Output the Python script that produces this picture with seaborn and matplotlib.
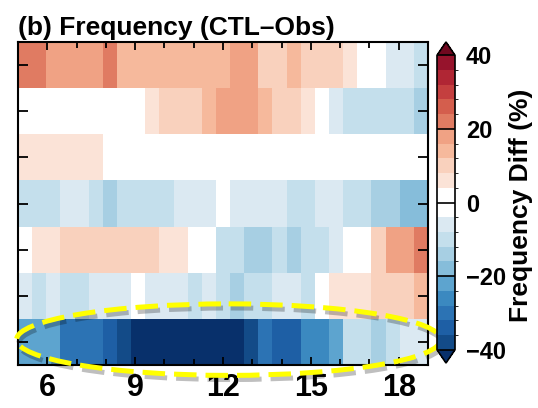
import numpy as np
import pandas as pd
import matplotlib
matplotlib.use("Agg")
import matplotlib.pyplot as plt
import seaborn as sns
from matplotlib.colors import ListedColormap, BoundaryNorm
from matplotlib.patches import Ellipse
import matplotlib.patheffects as pe

# ---------------- data ----------------
hour_start, hour_end = 5, 19
n_bins = 29
hour_ticks = [6, 9, 12, 15, 18]
minor_hours = list(range(6, 19))
row_names = ["L1", "L2", "L3", "L4", "L5", "L6", "L7"]

row1 = [22, 22, 18, 18, 18, 18, 22, 14, 14, 14, 14, 14, 14, 14, 14, 18, 18, 10, 10, 14, 10, 10, 10, 6, 0, 0, -6, -6, -10]
row2 = [0, 0, 0, 0, 0, 0, 0, 0, 0, 6, 10, 10, 10, 14, 18, 18, 18, 14, 10, 10, 6, 0, -6, -10, -10, -10, -10, -10, -14]
row3 = [6, 6, 6, 6, 6, 6, 0, 0, 0, 0, 0, 0, 0, 0, 0, 0, 0, 0, 0, 0, 0, 0, 0, 0, 0, 0, 0, 0, 0]
row4 = [-10, -10, -10, -6, -6, -10, -14, -10, -10, -10, -10, -6, -6, -6, 0, -6, -6, -6, -6, -10, -10, -6, -6, -10, -10, -14, -14, -18, -18]
row5 = [0, 6, 6, 10, 10, 10, 10, 10, 10, 10, 6, 6, 0, 0, -10, -10, -14, -14, -10, -14, -10, -10, -6, 0, 0, 10, 18, 18, 22]
row6 = [-6, -10, -6, -10, -10, -6, -6, -6, 0, -6, -6, -6, -10, -6, -10, -14, -10, -10, -6, -6, -10, 0, 6, 6, 6, 10, 10, 10, 14]
row7 = [-22, -22, -22, -30, -30, -30, -34, -38, -42, -42, -42, -42, -42, -42, -42, -42, -38, -30, -34, -34, -26, -26, -22, -10, -10, -14, -10, -6, -6]

levels = np.arange(-40, 41, 4)
cbar_ticks = [-40, -20, 0, 20, 40]
level_colors = [
    "#134b88", "#1e5fa5", "#2c73b4", "#3b89c0", "#5da4cf",
    "#86bdda", "#a7cfe3", "#c4dfec", "#dbe9f2", "#ffffff",
    "#ffffff", "#fbe3d7", "#f9d1bd", "#f6b99c", "#f0a284",
    "#e07b62", "#d45e4d", "#c43f3f", "#b02634", "#96132c",
]
under_color = "#08306b"
over_color = "#70081f"

df = pd.DataFrame([row1, row2, row3, row4, row5, row6, row7], index=row_names)

# ---------------- style ----------------
plt.rcParams["font.family"] = ["Liberation Sans", "DejaVu Sans"]
plt.rcParams["font.weight"] = "bold"

W, H = 538, 408
fig = plt.figure(figsize=(W / 100, H / 100), dpi=100)
ax = fig.add_axes([18 / W, 43 / H, 410 / W, 323 / H])
cax = fig.add_axes([437 / W, 45 / H, 18 / W, 321 / H])

cmap = ListedColormap(level_colors)
cmap.set_under(under_color)
cmap.set_over(over_color)
norm = BoundaryNorm(levels, cmap.N)

sns.heatmap(df, ax=ax, cmap=cmap, norm=norm, cbar_ax=cax,
            cbar_kws={"extend": "both", "ticks": cbar_ticks, "extendfrac": 0.045},
            xticklabels=False, yticklabels=False, linewidths=0)

span = hour_end - hour_start
major_pos = [(h - hour_start) / span * n_bins for h in hour_ticks]
minor_pos = [(h - hour_start) / span * n_bins for h in minor_hours]
ax.set_xticks(major_pos)
ax.set_xticklabels([str(h) for h in hour_ticks])
ax.set_xticks(minor_pos, minor=True)
ax.set_yticks(np.arange(len(row_names)) + 0.5)
ax.set_yticklabels([])
ax.set_xlabel("")
ax.set_ylabel("")
ax.tick_params(which="both", direction="in", top=True, right=True, bottom=True,
               left=True, labelbottom=True, color="black", width=1.3)
ax.tick_params(which="major", length=6, labelsize=22, pad=6)
ax.tick_params(which="minor", length=4)
ax.tick_params(axis="y", which="major", length=7)
for s in ax.spines.values():
    s.set_visible(True)
    s.set_linewidth(1.5)
    s.set_color("black")

ax.set_title("(b) Frequency (CTL\u2013Obs)", loc="left", fontsize=19,
             fontweight="bold", pad=5)

# colorbar styling
cb = ax.collections[0].colorbar
cb.outline.set_linewidth(1.2)
cb.outline.set_edgecolor("black")
cax.tick_params(direction="in", length=13, width=1.2, labelsize=17, pad=8,
                color="black")
for t in cax.get_yticklabels():
    t.set_fontweight("bold")
fig.text(521 / W, 1 - 205 / H, "Frequency Diff (%)", rotation=90, ha="center",
         va="center", fontsize=19, fontweight="bold")

# highlight ellipse around bottom row
ell = Ellipse((14.9, 6.45), 30.0, 1.55, fill=False, edgecolor="#ffff00",
              linewidth=3.6, linestyle=(0, (4.5, 1.8)), clip_on=False, zorder=10)
ell.set_path_effects([pe.SimpleLineShadow(offset=(1.5, -3), shadow_color="black",
                                          alpha=0.25), pe.Normal()])
ax.add_patch(ell)

fig.savefig("out.png", dpi=100)
